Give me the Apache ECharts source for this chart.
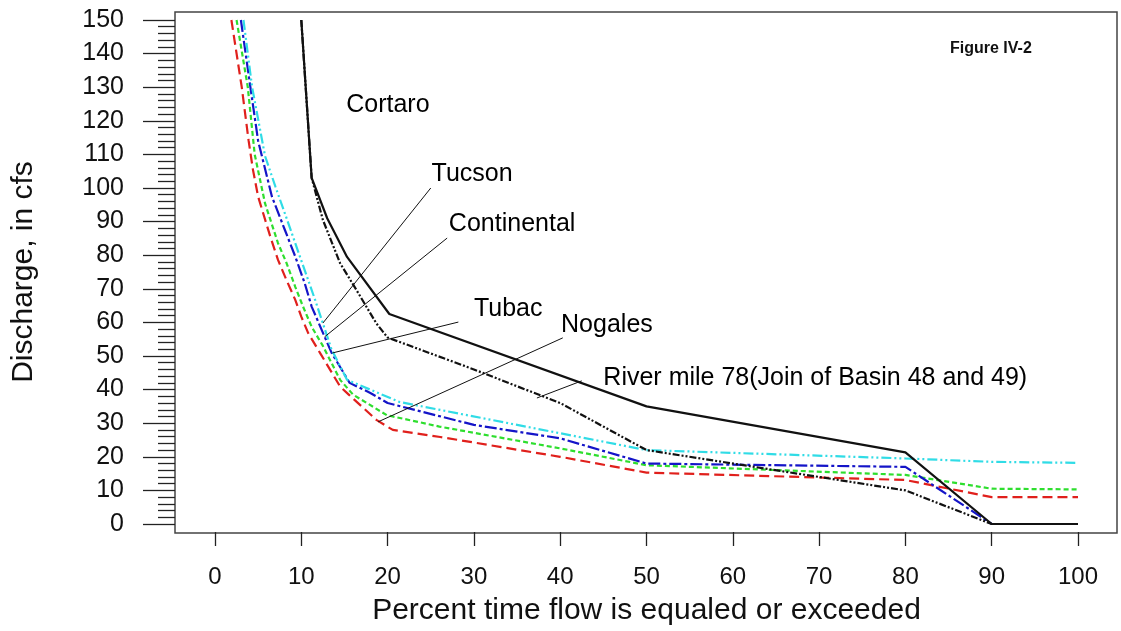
<!DOCTYPE html>
<html>
<head>
<meta charset="utf-8">
<title>Figure IV-2</title>
<script src="https://cdn.jsdelivr.net/npm/echarts@6/dist/echarts.min.js"></script>
<style>
html, body { margin: 0; padding: 0; background: #fff; }
#chart { width: 1121px; height: 631px; }
</style>
</head>
<body>
<div id="chart"></div>
<script>
// flow duration curves, [percent, cfs]
var cortaro = [[10, 150], [11.2, 103], [13, 91], [15.3, 79.5], [20.2, 62.5], [50, 35], [80, 21.3], [90, 0], [100, 0]];
var riverMile78 = [[10, 150], [11.2, 103], [12.5, 90.5], [14.5, 77.6], [16.4, 69.6], [18.7, 59.7], [20, 55.5], [30, 46], [40, 36], [50, 22], [80, 10], [90, 0], [100, 0]];
var tucson = [[3.3, 150], [4.3, 130], [5.8, 109.5], [7, 100.4], [8.5, 89.5], [9.7, 80.6], [10.8, 72.6], [11.6, 66.7], [13.5, 52], [15.3, 42.9], [21.4, 36.3], [50, 22], [80, 19.5], [90, 18.5], [100, 18.2]];
var tubac = [[3, 150], [4.1, 130], [5, 114], [6.6, 97.4], [8.1, 87.5], [9.3, 79.6], [10.4, 71.6], [11.2, 64.7], [13.5, 51], [15.6, 42], [18, 39], [20, 36], [30, 29.5], [40, 25.5], [50, 18], [80, 17], [90, 0], [100, 0]];
var continental = [[2.5, 150], [3.8, 130], [4.6, 110], [5.8, 95.4], [7.3, 83.6], [8.3, 77.6], [9.3, 70.6], [10.2, 64.7], [11.2, 58.7], [12.5, 53], [14.5, 42.9], [16, 38.5], [19.9, 32.4], [26, 29], [40, 22.5], [50, 17.5], [80, 14.6], [90, 10.5], [100, 10.3]];
var nogales = [[1.9, 150], [3.1, 130], [3.9, 114], [4.4, 105.4], [5, 97.4], [6.4, 85.6], [7.3, 78.6], [8.3, 72.5], [9.3, 66.7], [10, 61.7], [10.8, 56.8], [12.2, 50.8], [14.5, 40.9], [15.5, 38.5], [18.7, 31], [20.6, 28], [26.1, 25.9], [40, 20], [50, 15.3], [80, 13.1], [90, 8], [100, 8]];

// callout text (anchor = left middle of text) and leader lines
var labelNames = ['Cortaro', 'Tucson', 'Continental', 'Tubac', 'Nogales', 'River mile 78(Join of Basin 48 and 49)'];
var labelPos = [[15.2, 124.7], [25.1, 104.2], [27.1, 89.3], [30, 64], [40.1, 59.2], [45, 43.5]];
var leaders = [
	[[25, 100], [12.5, 59.8]],
	[[26.9, 85.1], [12.7, 55.7]],
	[[28.2, 60.1], [13.6, 50.9]],
	[[40.3, 55.4], [18.9, 30.4]],
	[[42.5, 42.6], [37.3, 37.5]]
];

var font = 'Liberation Sans, Arial, sans-serif';
var tickStyle = { color: '#222', width: 1.3 };

function curve(name, data, color, dash) {
	return {
		name: name,
		type: 'line',
		data: data,
		symbol: 'none',
		clip: false,
		lineStyle: { color: color, width: 2.2, type: dash },
		z: 3
	};
}

var series = [
	curve('Nogales', nogales, '#e0201c', [10, 5]),
	curve('Continental', continental, '#2ede2e', [5, 3]),
	curve('Tubac', tubac, '#1414c8', [12, 3, 3, 3]),
	curve('Tucson', tucson, '#30dce6', [10, 3, 2, 3, 2, 3]),
	curve('River mile 78', riverMile78, '#111', [7, 2, 2, 2, 2, 2]),
	curve('Cortaro', cortaro, '#111', 'solid')
];

leaders.forEach(function (seg) {
	series.push({
		type: 'line',
		data: seg,
		symbol: 'none',
		silent: true,
		lineStyle: { color: '#111', width: 1 },
		z: 4
	});
});

series.push({
	type: 'scatter',
	symbolSize: 0,
	silent: true,
	itemStyle: { opacity: 1 },
	data: labelNames.map(function (n, i) {
		return { name: n, value: labelPos[i] };
	}),
	label: {
		show: true,
		position: 'right',
		distance: 0,
		formatter: '{b}',
		fontFamily: font,
		fontSize: 25,
		color: '#000',
		opacity: 1,
		textBorderWidth: 0
	},
	z: 5
});

// grid 0 = data area (0..100, 0..150), grid 1 = frame,
// grid 2 = y ticks sitting on the frame, grid 3 = x ticks sitting on the frame
var chart = echarts.init(document.getElementById('chart'));
chart.setOption({
	animation: false,
	backgroundColor: '#fff',
	title: {
		text: 'Figure IV-2',
		left: 945,
		top: 36,
		textStyle: { fontFamily: font, fontSize: 16, fontWeight: 'bold', color: '#111' }
	},
	grid: [
		{ left: 215, right: 43, top: 20, bottom: 107 },
		{ left: 175, right: 4, top: 12, bottom: 98, show: true, borderColor: '#444', borderWidth: 1.5, backgroundColor: 'transparent' },
		{ left: 175, right: 4, top: 20, bottom: 107 },
		{ left: 215, right: 43, top: 12, bottom: 98 }
	],
	xAxis: [
		{ gridIndex: 0, type: 'value', min: 0, max: 100, show: false },
		{ gridIndex: 1, type: 'value', show: false },
		{ gridIndex: 2, type: 'value', show: false },
		{
			gridIndex: 3,
			type: 'value',
			min: 0,
			max: 100,
			interval: 10,
			name: 'Percent time flow is equaled or exceeded',
			nameLocation: 'middle',
			nameGap: 64,
			nameTextStyle: { fontFamily: font, fontSize: 30, color: '#111' },
			axisLine: { show: false },
			axisTick: { length: 14, lineStyle: tickStyle },
			axisLabel: { margin: 33, fontFamily: font, fontSize: 24, color: '#111' },
			splitLine: { show: false }
		}
	],
	yAxis: [
		{ gridIndex: 0, type: 'value', min: 0, max: 150, show: false },
		{ gridIndex: 1, type: 'value', show: false },
		{
			gridIndex: 2,
			type: 'value',
			min: 0,
			max: 150,
			interval: 10,
			name: 'Discharge, in cfs',
			nameLocation: 'middle',
			nameGap: 136,
			nameTextStyle: { fontFamily: font, fontSize: 30, color: '#111' },
			axisLine: { show: false },
			axisTick: { length: 32, lineStyle: tickStyle },
			minorTick: { show: true, splitNumber: 5, length: 17, lineStyle: tickStyle },
			axisLabel: { margin: 51, fontFamily: font, fontSize: 25, color: '#111' },
			splitLine: { show: false },
			minorSplitLine: { show: false }
		},
		{ gridIndex: 3, type: 'value', show: false }
	],
	series: series
});
</script>
</body>
</html>
